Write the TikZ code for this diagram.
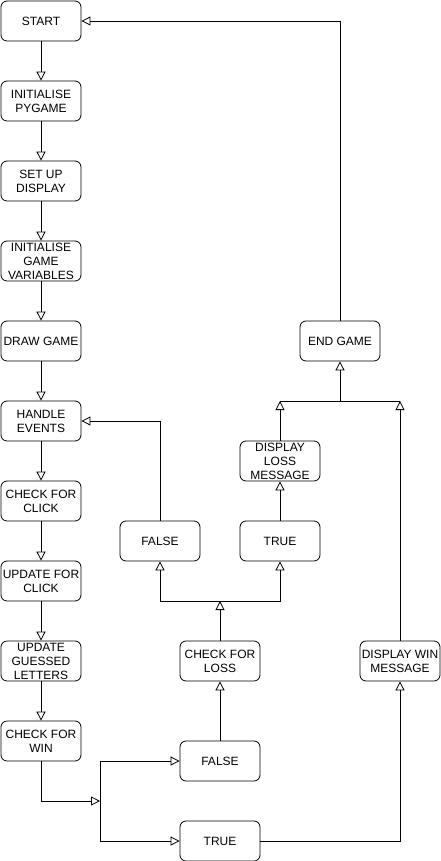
\documentclass[tikz,border=0pt]{standalone}
\usepackage{fontspec}
\setmainfont{Liberation Sans}
\usetikzlibrary{arrows.meta}
\begin{document}
\begin{tikzpicture}[x=1pt,y=-1pt,
  box/.style={draw, line width=0.8pt, rounded corners=6pt, minimum width=80pt, minimum height=40pt,
    inner sep=0.5pt, align=center, font=\fontsize{12}{14}\selectfont},
  flow/.style={draw, line width=0.8pt, -{Triangle[open,length=9pt,width=9pt]}},
  link/.style={draw, line width=0.8pt}]
\useasboundingbox (0,0) rectangle (441,861);
\node[box] (start) at (41,21) {START};
\node[box] (initpg) at (41,101) {INITIALISE\\PYGAME};
\node[box] (disp) at (41,181) {SET UP\\DISPLAY};
\node[box] (initvar) at (41,261) {INITIALISE\\GAME\\VARIABLES};
\node[box] (draw) at (41,341) {DRAW GAME};
\node[box] (handle) at (41,421) {HANDLE\\EVENTS};
\node[box] (chkclick) at (41,501) {CHECK FOR\\CLICK};
\node[box] (updclick) at (41,581) {UPDATE FOR\\CLICK};
\node[box] (updlet) at (41,661) {UPDATE\\GUESSED\\LETTERS};
\node[box] (chkwin) at (41,741) {CHECK FOR\\WIN};
\node[box] (wfalse) at (220,761) {FALSE};
\node[box] (wtrue) at (220,841) {TRUE};
\node[box] (chkloss) at (220,661) {CHECK FOR\\LOSS};
\node[box] (lfalse) at (160,541) {FALSE};
\node[box] (ltrue) at (280,541) {TRUE};
\node[box] (lossmsg) at (280,461) {DISPLAY\\LOSS\\MESSAGE};
\node[box] (endg) at (340,341) {END GAME};
\node[box] (winmsg) at (400,661) {DISPLAY WIN\\MESSAGE};
\coordinate (jw) at (100,801);
\coordinate (jl) at (220,601);
\coordinate (je) at (340,401);
\coordinate (jlm) at (280,401);
\coordinate (jwm) at (400,401);
\path[flow] (start) -- (initpg);
\path[flow] (initpg) -- (disp);
\path[flow] (disp) -- (initvar);
\path[flow] (initvar) -- (draw);
\path[flow] (draw) -- (handle);
\path[flow] (handle) -- (chkclick);
\path[flow] (chkclick) -- (updclick);
\path[flow] (updclick) -- (updlet);
\path[flow] (updlet) -- (chkwin);
\path[flow] (chkwin.south) |- (jw);
\path[flow] (jw) |- (wfalse.west);
\path[flow] (jw) |- (wtrue.west);
\path[flow] (wfalse) -- (chkloss);
\path[flow] (chkloss.north) -- (jl);
\path[flow] (jl) -| (lfalse.south);
\path[flow] (jl) -| (ltrue.south);
\path[flow] (lfalse.north) |- (handle.east);
\path[flow] (ltrue) -- (lossmsg);
\path[flow] (lossmsg.north) -- (jlm);
\path[flow] (winmsg.north) -- (jwm);
\path[link] (jlm) -- (jwm);
\path[flow] (je) -- (endg.south);
\path[flow] (endg.north) |- (start.east);
\path[flow] (wtrue.east) -| (winmsg.south);
\end{tikzpicture}
\end{document}
